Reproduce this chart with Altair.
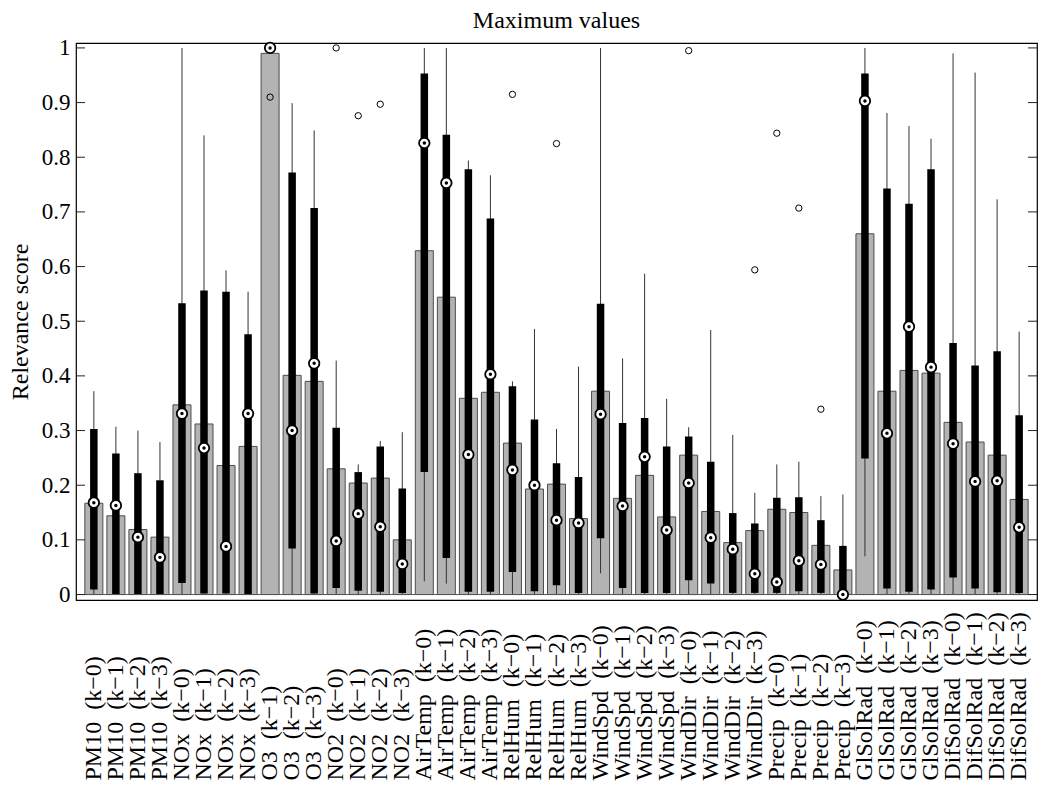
import altair as alt
import pandas as pd

labels = [
    "PM10\u00a0 (k\u22120)", "PM10\u00a0 (k\u22121)", "PM10\u00a0 (k\u22122)", "PM10\u00a0 (k\u22123)",
    "NOx\u00a0 (k\u22120)", "NOx\u00a0 (k\u22121)", "NOx\u00a0 (k\u22122)", "NOx\u00a0 (k\u22123)",
    "O3\u00a0 (k\u22121)", "O3\u00a0 (k\u22122)", "O3\u00a0 (k\u22123)",
    "NO2\u00a0 (k\u22120)", "NO2\u00a0 (k\u22121)", "NO2\u00a0 (k\u22122)", "NO2\u00a0 (k\u22123)",
    "AirTemp\u00a0 (k\u22120)", "AirTemp\u00a0 (k\u22121)", "AirTemp\u00a0 (k\u22122)", "AirTemp\u00a0 (k\u22123)",
    "RelHum\u00a0 (k\u22120)", "RelHum\u00a0 (k\u22121)", "RelHum\u00a0 (k\u22122)", "RelHum\u00a0 (k\u22123)",
    "WindSpd\u00a0 (k\u22120)", "WindSpd\u00a0 (k\u22121)", "WindSpd\u00a0 (k\u22122)", "WindSpd\u00a0 (k\u22123)",
    "WindDir\u00a0 (k\u22120)", "WindDir\u00a0 (k\u22121)", "WindDir\u00a0 (k\u22122)", "WindDir\u00a0 (k\u22123)",
    "Precip\u00a0 (k\u22120)", "Precip\u00a0 (k\u22121)", "Precip\u00a0 (k\u22122)", "Precip\u00a0 (k\u22123)",
    "GlSolRad\u00a0 (k\u22120)", "GlSolRad\u00a0 (k\u22121)", "GlSolRad\u00a0 (k\u22122)", "GlSolRad\u00a0 (k\u22123)",
    "DifSolRad\u00a0 (k\u22120)", "DifSolRad\u00a0 (k\u22121)", "DifSolRad\u00a0 (k\u22122)", "DifSolRad\u00a0 (k\u22123)",
]

mean_vals = [0.167, 0.144, 0.119, 0.105,
             0.347, 0.312, 0.236, 0.271,
             0.990, 0.401, 0.390,
             0.230, 0.204, 0.213, 0.100,
             0.629, 0.544, 0.359, 0.370,
             0.277, 0.193, 0.202, 0.139,
             0.372, 0.176, 0.218, 0.142,
             0.255, 0.152, 0.095, 0.117,
             0.156, 0.150, 0.090, 0.045,
             0.660, 0.372, 0.410, 0.405,
             0.315, 0.279, 0.255, 0.174]

median_vals = [0.168, 0.163, 0.105, 0.068,
               0.331, 0.268, 0.088, 0.331,
               1.000, 0.300, 0.423,
               0.098, 0.148, 0.124, 0.056,
               0.826, 0.753, 0.256, 0.403,
               0.228, 0.200, 0.136, 0.131,
               0.330, 0.162, 0.252, 0.118,
               0.204, 0.104, 0.083, 0.038,
               0.023, 0.062, 0.055, 0.000,
               0.903, 0.295, 0.490, 0.416,
               0.276, 0.207, 0.208, 0.123]

q1_vals = [0.009, 0.001, 0.001, 0.001,
           0.021, 0.002, 0.002, 0.001,
           0.997, 0.084, 0.002,
           0.012, 0.007, 0.005, 0.003,
           0.224, 0.067, 0.005, 0.005,
           0.041, 0.006, 0.017, 0.003,
           0.103, 0.012, 0.003, 0.003,
           0.026, 0.020, 0.003, 0.003,
           0.003, 0.006, 0.003, 0.001,
           0.249, 0.011, 0.005, 0.009,
           0.031, 0.011, 0.004, 0.003]

q3_vals = [0.303, 0.258, 0.222, 0.209,
           0.533, 0.556, 0.554, 0.476,
           1.000, 0.772, 0.707,
           0.305, 0.224, 0.271, 0.194,
           0.953, 0.841, 0.778, 0.688,
           0.381, 0.320, 0.240, 0.215,
           0.532, 0.314, 0.323, 0.271,
           0.289, 0.243, 0.149, 0.130,
           0.177, 0.178, 0.136, 0.089,
           0.953, 0.743, 0.715, 0.778,
           0.460, 0.419, 0.445, 0.328]

whisker_low = [0.0, 0.0, 0.0, 0.0,
               0.0, 0.0, 0.0, 0.0,
               0.995, 0.0, 0.0,
               0.0, 0.0, 0.0, 0.0,
               0.024, 0.020, 0.0, 0.0,
               0.0, 0.0, 0.0, 0.0,
               0.039, 0.0, 0.0, 0.0,
               0.0, 0.0, 0.0, 0.0,
               0.0, 0.0, 0.0, 0.0,
               0.070, 0.0, 0.0, 0.0,
               0.0, 0.0, 0.0, 0.0]

whisker_high = [0.372, 0.307, 0.300, 0.279,
                1.000, 0.840, 0.593, 0.554,
                1.000, 0.899, 0.849,
                0.428, 0.238, 0.281, 0.297,
                1.000, 1.000, 0.794, 0.767,
                0.390, 0.486, 0.303, 0.417,
                1.000, 0.432, 0.587, 0.358,
                0.306, 0.484, 0.292, 0.186,
                0.238, 0.243, 0.180, 0.183,
                1.000, 0.881, 0.857, 0.834,
                0.990, 0.955, 0.723, 0.481]

outlier_labels = ["O3\u00a0 (k\u22121)", "NO2\u00a0 (k\u22120)", "NO2\u00a0 (k\u22121)", "NO2\u00a0 (k\u22122)",
                  "RelHum\u00a0 (k\u22120)", "RelHum\u00a0 (k\u22122)", "WindDir\u00a0 (k\u22120)",
                  "WindDir\u00a0 (k\u22123)", "Precip\u00a0 (k\u22120)", "Precip\u00a0 (k\u22121)",
                  "Precip\u00a0 (k\u22122)"]
outlier_vals = [0.910, 1.000, 0.876, 0.897, 0.915, 0.825, 0.995, 0.594, 0.844, 0.707, 0.339]

tick_vals = [0.0, 0.1, 0.2, 0.3, 0.4, 0.5, 0.6, 0.7, 0.8, 0.9, 1.0]

FONT = "Liberation Serif"
W, H = 961, 557

df = pd.DataFrame({
    "label": labels, "mean": mean_vals, "median": median_vals,
    "q1": q1_vals, "q3": q3_vals, "wlo": whisker_low, "whi": whisker_high,
})
out_df = pd.DataFrame({"label": outlier_labels, "value": outlier_vals})
tick_df = pd.DataFrame({"t": tick_vals})
zero_df = pd.DataFrame({"z": [0.0]})

x_scale = alt.Scale(domain=labels, paddingInner=0, paddingOuter=0.31)
y_scale = alt.Scale(domain=[-0.01, 1.009], nice=False, zero=False)

x_axis = alt.Axis(title=None, labelAngle=270, labelAlign="left", labelBaseline="middle",
                  labelPadding=180, labelFont=FONT, labelFontSize=24, labelColor="black",
                  ticks=False, tickSize=0, domain=False, grid=False, labelLimit=400)
y_axis = alt.Axis(values=tick_vals, format="~g", title="Relevance score",
                  titleFont=FONT, titleFontSize=24, titleFontWeight="normal", titleColor="black",
                  labelFont=FONT, labelFontSize=23, labelColor="black",
                  ticks=False, tickSize=0, domain=False, grid=False,
                  labelPadding=6, titlePadding=9)


def X():
    return alt.X("label:N", scale=x_scale, axis=x_axis)


def Y(field):
    return alt.Y(field, scale=y_scale, axis=y_axis)


base = alt.Chart(df)

bars = base.mark_bar(width=18, color="#b3b3b3", stroke="#4d4d4d", strokeWidth=1).encode(
    x=X(), y=Y("mean:Q"),
)

whiskers = base.mark_rule(color="#333333", strokeWidth=1).encode(
    x=X(), y=Y("wlo:Q"), y2="whi:Q",
)

boxes = base.mark_bar(width=7.5, color="black").encode(
    x=X(), y=Y("q1:Q"), y2="q3:Q",
)

zero_line = alt.Chart(zero_df).mark_rule(color="#555555", strokeWidth=1).encode(
    y=Y("z:Q"),
)

medians = base.mark_point(shape="circle", filled=True, fill="white", stroke="black",
                          strokeWidth=1.8, size=110, opacity=1).encode(
    x=X(), y=Y("median:Q"),
)

dots = base.mark_point(shape="circle", filled=True, color="black", size=12, opacity=1).encode(
    x=X(), y=Y("median:Q"),
)

outliers = alt.Chart(out_df).mark_point(shape="circle", filled=False, stroke="black",
                                        strokeWidth=1, size=40, opacity=1).encode(
    x=X(), y=Y("value:Q"),
)

ticks_left = alt.Chart(tick_df).mark_rule(color="#222222", strokeWidth=1).encode(
    y=Y("t:Q"), x=alt.value(0), x2=alt.value(9),
)
ticks_right = alt.Chart(tick_df).mark_rule(color="#222222", strokeWidth=1).encode(
    y=Y("t:Q"), x=alt.value(W - 9), x2=alt.value(W),
)

chart = alt.layer(
    bars, whiskers, boxes, zero_line, medians, dots, outliers, ticks_left, ticks_right
).properties(
    width=W, height=H,
    title=alt.TitleParams("Maximum values", font=FONT, fontSize=24, fontWeight="normal",
                          color="black", offset=4),
    padding={"left": 0, "top": 0, "right": 0, "bottom": 0},
).configure(
    background="white"
).configure_view(
    stroke="black", strokeWidth=1.2
)

chart.save("out.html", embed_options={"renderer": "svg", "actions": False})
